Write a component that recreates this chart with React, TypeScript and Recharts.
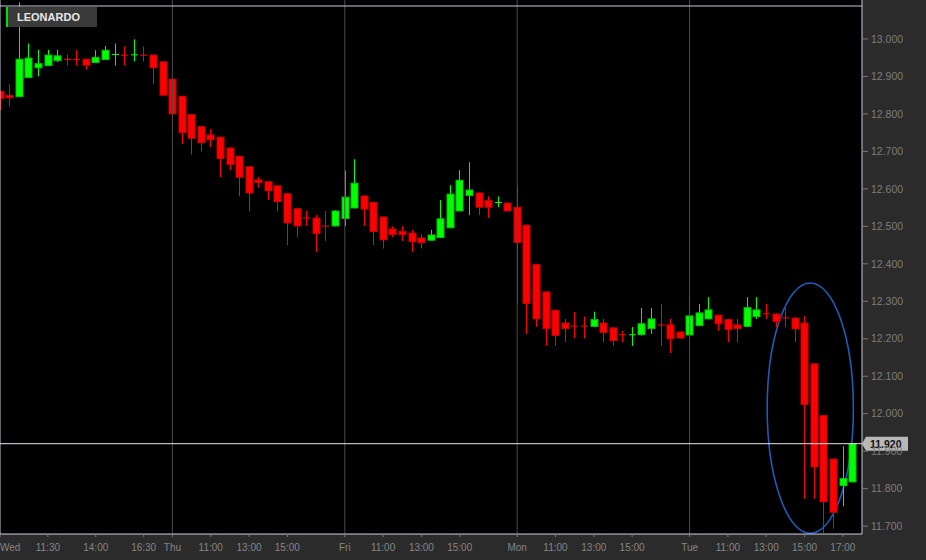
import React from 'react';
import { ComposedChart, Bar, XAxis, YAxis, CartesianGrid, ReferenceLine, ReferenceArea } from 'recharts';

const symbol = 'LEONARDO';

const opens = [
  12.860, 12.849, 12.846, 12.897, 12.923, 12.929, 12.942, 12.947, 12.946, 12.946,
  12.937, 12.945, 12.958, 12.958, 12.957, 12.958, 12.957, 12.939, 12.893, 12.847,
  12.798, 12.766, 12.744, 12.738, 12.709, 12.687, 12.659, 12.624, 12.619, 12.608,
  12.587, 12.547, 12.524, 12.522, 12.502, 12.501, 12.521, 12.549, 12.581, 12.564,
  12.525, 12.493, 12.486, 12.482, 12.469, 12.463, 12.470, 12.496, 12.541, 12.582,
  12.589, 12.569, 12.563, 12.562, 12.551, 12.503, 12.398, 12.325, 12.276, 12.242,
  12.235, 12.235, 12.233, 12.242, 12.229, 12.212, 12.210, 12.211, 12.227, 12.238,
  12.237, 12.218, 12.210, 12.235, 12.253, 12.263, 12.251, 12.237, 12.233, 12.259,
  12.268, 12.266, 12.257, 12.255, 12.242, 12.133, 11.995, 11.879, 11.808, 11.818,
];
const highs = [
  12.862, 12.879, 13.098, 12.988, 12.971, 12.971, 12.971, 12.959, 12.970, 12.947,
  12.970, 12.981, 12.988, 12.980, 12.999, 12.980, 12.960, 12.940, 12.895, 12.848,
  12.800, 12.768, 12.759, 12.739, 12.711, 12.689, 12.660, 12.632, 12.620, 12.610,
  12.589, 12.549, 12.541, 12.530, 12.541, 12.543, 12.649, 12.679, 12.583, 12.565,
  12.526, 12.500, 12.500, 12.491, 12.479, 12.491, 12.570, 12.610, 12.650, 12.671,
  12.591, 12.580, 12.580, 12.563, 12.609, 12.505, 12.400, 12.327, 12.278, 12.253,
  12.271, 12.259, 12.272, 12.253, 12.231, 12.221, 12.231, 12.282, 12.282, 12.293,
  12.253, 12.219, 12.311, 12.293, 12.311, 12.264, 12.252, 12.253, 12.311, 12.311,
  12.293, 12.268, 12.282, 12.259, 12.261, 12.134, 11.996, 11.880, 11.913, 11.921,
];
const lows = [
  12.810, 12.820, 12.845, 12.896, 12.900, 12.928, 12.938, 12.929, 12.929, 12.918,
  12.936, 12.944, 12.929, 12.929, 12.940, 12.940, 12.879, 12.849, 12.751, 12.719,
  12.691, 12.700, 12.711, 12.631, 12.650, 12.580, 12.540, 12.603, 12.570, 12.540,
  12.450, 12.471, 12.501, 12.431, 12.461, 12.499, 12.501, 12.548, 12.501, 12.450,
  12.441, 12.471, 12.461, 12.431, 12.441, 12.462, 12.469, 12.495, 12.540, 12.530,
  12.530, 12.522, 12.551, 12.540, 12.291, 12.213, 12.232, 12.181, 12.181, 12.191,
  12.201, 12.201, 12.232, 12.191, 12.181, 12.191, 12.181, 12.208, 12.213, 12.181,
  12.162, 12.201, 12.209, 12.234, 12.252, 12.221, 12.191, 12.191, 12.232, 12.253,
  12.253, 12.231, 12.231, 12.191, 11.773, 11.773, 11.682, 11.693, 11.753, 11.817,
];
const closes = [
  12.841, 12.843, 12.946, 12.949, 12.934, 12.957, 12.955, 12.945, 12.944, 12.930,
  12.951, 12.970, 12.960, 12.956, 12.959, 12.956, 12.923, 12.850, 12.800, 12.750,
  12.735, 12.723, 12.731, 12.681, 12.665, 12.631, 12.589, 12.617, 12.595, 12.566,
  12.509, 12.501, 12.521, 12.481, 12.500, 12.541, 12.578, 12.615, 12.546, 12.486,
  12.464, 12.478, 12.478, 12.459, 12.456, 12.477, 12.520, 12.586, 12.623, 12.597,
  12.551, 12.551, 12.565, 12.541, 12.457, 12.294, 12.253, 12.227, 12.209, 12.227,
  12.233, 12.233, 12.251, 12.217, 12.195, 12.210, 12.212, 12.240, 12.253, 12.236,
  12.200, 12.202, 12.261, 12.269, 12.277, 12.240, 12.225, 12.227, 12.283, 12.277,
  12.266, 12.246, 12.255, 12.226, 12.025, 11.858, 11.765, 11.737, 11.827, 11.920,
];

const dayStartIndex = [0, 18, 36, 54, 72];
const xTickIndex = [0, 5, 10, 15, 18, 22, 26, 30, 36, 40, 44, 48, 54, 58, 62, 66, 72, 76, 80, 84, 88];
const xTickLabels = ['Wed', '11:30', '14:00', '16:30', 'Thu', '11:00', '13:00', '15:00', 'Fri', '11:00', '13:00', '15:00', 'Mon', '11:00', '13:00', '15:00', 'Tue', '11:00', '13:00', '15:00', '17:00'];
const yTicks = [11.7, 11.8, 11.9, 12.0, 12.1, 12.2, 12.3, 12.4, 12.5, 12.6, 12.7, 12.8, 12.9, 13.0];
const yDomain = [11.679, 13.104];
const frameTop = 13.088;
const lastPrice = 11.92;
const highlight = { x1: 80.1, x2: 89.1, y1: 11.681, y2: 12.349 };

const data = opens.map((o, i) => ({ i, open: o, high: highs[i], low: lows[i], close: closes[i] }));

const FONT = '"Liberation Sans", Arial, sans-serif';
const FRAME = '#c8c8dc';
const GRID = '#4a4a4a';

const Candle = (props: any) => {
  const { x, y, width, height, payload } = props;
  if (x == null || y == null) return null;
  const { open, close, high, low } = payload;
  const cx = Math.round(x + width / 2) + 0.5;
  const range = high - low;
  const k = range > 0 ? height / range : 0;
  const yO = y + (high - open) * k;
  const yC = y + (high - close) * k;
  const up = close >= open;
  const fill = up ? '#00ff00' : '#ff0000';
  const edge = up ? '#00c000' : '#c80000';
  const top = Math.min(yO, yC);
  const h = Math.max(Math.abs(yC - yO), 1);
  return (
    <g>
      <line x1={cx} x2={cx} y1={y} y2={y + height} stroke={fill} strokeWidth={1} />
      <rect x={cx - 3.5} y={top} width={7} height={h} fill={fill} stroke={edge} strokeWidth={h > 2 ? 1 : 0} />
    </g>
  );
};

const XTick = (props: any) => {
  const { x, y, payload } = props;
  const k = xTickIndex.indexOf(payload.value);
  const first = payload.value === 0;
  return (
    <text x={first ? 0 : x} y={y + 12} textAnchor={first ? 'start' : 'middle'} fill="#858585" fontSize={10} fontFamily={FONT}>
      {xTickLabels[k]}
    </text>
  );
};

const PriceTag = (props: any) => {
  const vb = props.viewBox || {};
  const x0 = (vb.x || 0) + (vb.width || 0);
  const y0 = vb.y || 0;
  return (
    <g>
      <path d={`M${x0} ${y0} L${x0 + 4} ${y0 - 7} L${x0 + 46} ${y0 - 7} L${x0 + 46} ${y0 + 7} L${x0 + 4} ${y0 + 7} Z`} fill="#c4c4c4" fillOpacity={0.92} />
      <text x={x0 + 8} y={y0 + 4} fontSize={10.5} fontWeight="bold" fill="#111" fontFamily={FONT}>
        {lastPrice.toFixed(3)}
      </text>
    </g>
  );
};

const EllipseShape = (props: any) => {
  const { x, y, width, height } = props;
  return <ellipse cx={x + width / 2} cy={y + height / 2} rx={width / 2} ry={height / 2} fill="none" stroke="#1d5bb8" strokeWidth={1.6} />;
};

export default function App() {
  return (
    <div style={{ position: 'absolute', left: 0, top: 0, width: 926, height: 560, background: '#2b2b2b', overflow: 'hidden' }}>
      <ComposedChart width={926} height={560} data={data} margin={{ top: 0, right: 0, bottom: 0, left: 0 }}>
        <rect x={0} y={0} width={862} height={534} fill="#000" />
        <CartesianGrid vertical={false} stroke={GRID} fill="#000" />
        {dayStartIndex.slice(1).map((d) => (
          <ReferenceLine key={d} x={d} stroke={GRID} strokeWidth={1} />
        ))}
        <XAxis
          type="number"
          dataKey="i"
          domain={[0, 90]}
          ticks={xTickIndex}
          interval={0}
          height={26}
          axisLine={{ stroke: FRAME }}
          tickLine={{ stroke: '#777' }}
          tickSize={3}
          tickMargin={2}
          tick={<XTick />}
        />
        <YAxis
          orientation="right"
          type="number"
          domain={yDomain}
          ticks={yTicks}
          interval={0}
          width={64}
          axisLine={{ stroke: FRAME }}
          tickLine={{ stroke: '#777' }}
          tickSize={6}
          tickMargin={3}
          tick={{ fill: '#7d7d7d', fontSize: 10.5, fontFamily: FONT }}
          tickFormatter={(v: number) => v.toFixed(3)}
        />
        <Bar dataKey={(d: any) => [d.low, d.high]} barSize={7} shape={<Candle />} isAnimationActive={false} />
        <ReferenceLine y={frameTop} stroke={FRAME} strokeWidth={1} />
        <ReferenceLine x={0} stroke={FRAME} strokeWidth={1} />
        <ReferenceLine y={lastPrice} stroke="#e8e8e8" strokeWidth={1} label={(p: any) => <PriceTag {...p} />} />
        <ReferenceArea x1={highlight.x1} x2={highlight.x2} y1={highlight.y1} y2={highlight.y2} shape={(p: any) => <EllipseShape {...p} />} />
      </ComposedChart>
      <div style={{ position: 'absolute', left: 6, top: 7, width: 91, height: 20, background: '#3a3a3a', borderLeft: '2px solid #00e000', boxSizing: 'border-box' }}>
        <span style={{ position: 'absolute', left: 9, top: 3, color: '#e8e8e8', fontSize: 11, fontWeight: 'bold', fontFamily: FONT, lineHeight: '14px' }}>{symbol}</span>
      </div>
    </div>
  );
}
